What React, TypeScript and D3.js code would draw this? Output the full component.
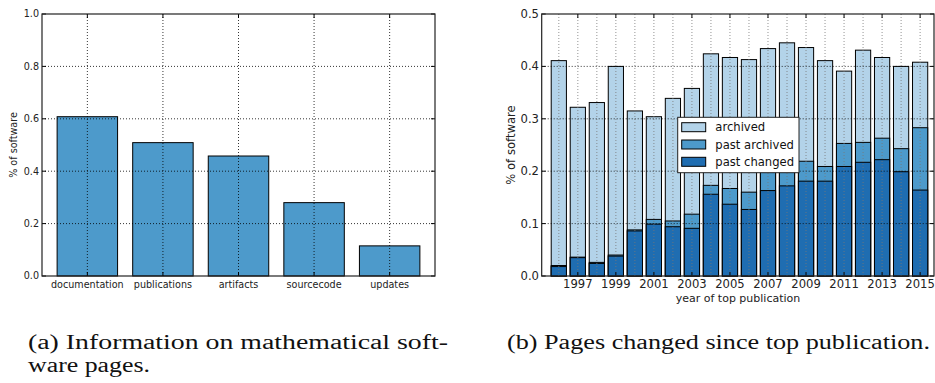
import React from 'react';
import * as d3 from 'd3';

// (a) information on software pages
const infoCategories = ['documentation', 'publications', 'artifacts', 'sourcecode', 'updates'];
const infoValues = [0.608, 0.509, 0.458, 0.28, 0.115];
const infoTicks = [0, 0.2, 0.4, 0.6, 0.8, 1.0];

// (b) pages changed since top publication
const years = [1996, 1997, 1998, 1999, 2000, 2001, 2002, 2003, 2004, 2005, 2006, 2007, 2008, 2009, 2010, 2011, 2012, 2013, 2014, 2015];
const archived = [0.411, 0.322, 0.331, 0.4, 0.315, 0.304, 0.339, 0.358, 0.424, 0.417, 0.413, 0.434, 0.445, 0.436, 0.411, 0.391, 0.431, 0.417, 0.4, 0.408];
const pastArchived = [0.02, 0.036, 0.026, 0.04, 0.088, 0.108, 0.105, 0.118, 0.173, 0.167, 0.16, 0.205, 0.21, 0.219, 0.209, 0.253, 0.255, 0.263, 0.243, 0.283];
const pastChanged = [0.018, 0.035, 0.024, 0.038, 0.086, 0.099, 0.094, 0.091, 0.156, 0.137, 0.127, 0.163, 0.172, 0.181, 0.181, 0.209, 0.217, 0.222, 0.199, 0.164];
const yearTicks = [1997, 1999, 2001, 2003, 2005, 2007, 2009, 2011, 2013, 2015];
const shareTicks = [0, 0.1, 0.2, 0.3, 0.4, 0.5];

const LIGHT = '#b3d3e9';
const MID = '#4d9acb';
const DARK = '#1f6db1';
const FONT = '"DejaVu Sans", sans-serif';
const SERIF = '"Liberation Serif", "Times New Roman", serif';

const App = () => {
  const top = 14;
  const bottom = 276;

  // left panel
  const xa = d3.scaleLinear().domain([-0.6, 4.6]).range([42, 435]);
  const ya = d3.scaleLinear().domain([0, 1]).range([bottom, top]);
  const barW = xa(0.8) - xa(0);

  // right panel
  const xb = d3.scaleLinear().domain([1995.1, 2015.73]).range([541.7, 934]);
  const yb = d3.scaleLinear().domain([0, 0.5]).range([bottom, top]);
  const yearW = xb(0.8) - xb(0);

  const layers = [
    { name: 'archived', values: archived, color: LIGHT },
    { name: 'past archived', values: pastArchived, color: MID },
    { name: 'past changed', values: pastChanged, color: DARK },
  ];

  return (
    <svg width={935} height={383} style={{ position: 'absolute', left: 0, top: 0, background: '#fff' }}>
      {/* ---- panel (a) ---- */}
      <g>
        {infoValues.map((v, i) => (
          <rect key={i} x={xa(i) - barW / 2} y={ya(v)} width={barW} height={ya(0) - ya(v)}
            fill={MID} stroke="#000" strokeWidth={1} />
        ))}
        {infoTicks.slice(1, -1).map(t => (
          <line key={t} x1={xa.range()[0]} x2={xa.range()[1]} y1={ya(t)} y2={ya(t)}
            stroke="#000" strokeDasharray="1,2" strokeWidth={0.8} />
        ))}
        {infoCategories.map((c, i) => (
          <line key={c} x1={xa(i)} x2={xa(i)} y1={top} y2={bottom}
            stroke="#000" strokeDasharray="1,2" strokeWidth={0.8} />
        ))}
        {infoTicks.map(t => (
          <g key={t}>
            <line x1={42} x2={46} y1={ya(t)} y2={ya(t)} stroke="#000" />
            <line x1={431} x2={435} y1={ya(t)} y2={ya(t)} stroke="#000" />
            <text x={39} y={ya(t)} dy="0.35em" textAnchor="end" fontFamily={FONT} fontSize={9.6} fill="#222">
              {t.toFixed(1)}
            </text>
          </g>
        ))}
        {infoCategories.map((c, i) => (
          <g key={c}>
            <line x1={xa(i)} x2={xa(i)} y1={bottom} y2={bottom - 4} stroke="#000" />
            <line x1={xa(i)} x2={xa(i)} y1={top} y2={top + 4} stroke="#000" />
            <text x={xa(i)} y={288} textAnchor="middle" fontFamily={FONT} fontSize={9.6} fill="#222">{c}</text>
          </g>
        ))}
        <rect x={42} y={top} width={393} height={bottom - top} fill="none" stroke="#222" strokeWidth={1.2} />
        <text transform={`translate(17,145) rotate(-90)`} textAnchor="middle" fontFamily={FONT} fontSize={9.6} fill="#222">
          % of software
        </text>
      </g>

      {/* ---- panel (b) ---- */}
      <g>
        {layers.map(l => (
          <g key={l.name}>
            {l.values.map((v, i) => (
              <rect key={i} x={xb(years[i]) - yearW / 2} y={yb(v)} width={yearW} height={yb(0) - yb(v)}
                fill={l.color} stroke="#000" strokeWidth={1} />
            ))}
          </g>
        ))}
        {years.map(yr => (
          <line key={yr} x1={xb(yr)} x2={xb(yr)} y1={top} y2={bottom}
            stroke="#777" strokeDasharray="1,2" strokeWidth={0.8} />
        ))}
        {shareTicks.slice(1, -1).map(t => (
          <line key={t} x1={xb.range()[0]} x2={xb.range()[1]} y1={yb(t)} y2={yb(t)}
            stroke="#000" strokeDasharray="1,2" strokeWidth={0.8} />
        ))}
        {shareTicks.map(t => (
          <g key={t}>
            <line x1={541.7} x2={545.7} y1={yb(t)} y2={yb(t)} stroke="#000" />
            <line x1={930} x2={934} y1={yb(t)} y2={yb(t)} stroke="#000" />
            <text x={539} y={yb(t)} dy="0.35em" textAnchor="end" fontFamily={FONT} fontSize={11.6} fill="#222">
              {t.toFixed(1)}
            </text>
          </g>
        ))}
        {yearTicks.map(yr => (
          <g key={yr}>
            <line x1={xb(yr)} x2={xb(yr)} y1={bottom} y2={bottom - 4} stroke="#000" />
            <line x1={xb(yr)} x2={xb(yr)} y1={top} y2={top + 4} stroke="#000" />
            <text x={xb(yr)} y={288} textAnchor="middle" fontFamily={FONT} fontSize={11.6} fill="#222">{yr}</text>
          </g>
        ))}
        <rect x={541.7} y={top} width={392.3} height={bottom - top} fill="none" stroke="#222" strokeWidth={1.2} />
        <text transform={`translate(515,145) rotate(-90)`} textAnchor="middle" fontFamily={FONT} fontSize={11.6} fill="#222">
          % of software
        </text>
        <text x={738} y={302} textAnchor="middle" fontFamily={FONT} fontSize={11} fill="#222">year of top publication</text>

        {/* legend */}
        <g transform="translate(677.7,117.3)">
          <rect width={121.3} height={55.4} fill="#fff" stroke="#222" strokeWidth={1} />
          {layers.map((l, i) => (
            <g key={l.name} transform={`translate(4,${9.9 + i * 17.3})`}>
              <rect x={0} y={-4.5} width={24} height={9} fill={l.color} stroke="#000" strokeWidth={1} />
              <text x={33.6} y={0} dy="0.35em" fontFamily={FONT} fontSize={11.6} fill="#111">{l.name}</text>
            </g>
          ))}
        </g>
      </g>

      {/* captions */}
      <g fontFamily={SERIF} fontSize={20} fill="#111">
        <text x={28} y={349} textLength={420} lengthAdjust="spacingAndGlyphs">(a) Information on mathematical soft-</text>
        <text x={28} y={372} textLength={122} lengthAdjust="spacingAndGlyphs">ware pages.</text>
        <text x={507} y={349} textLength={423} lengthAdjust="spacingAndGlyphs">(b) Pages changed since top publication.</text>
      </g>
    </svg>
  );
};

export default App;
